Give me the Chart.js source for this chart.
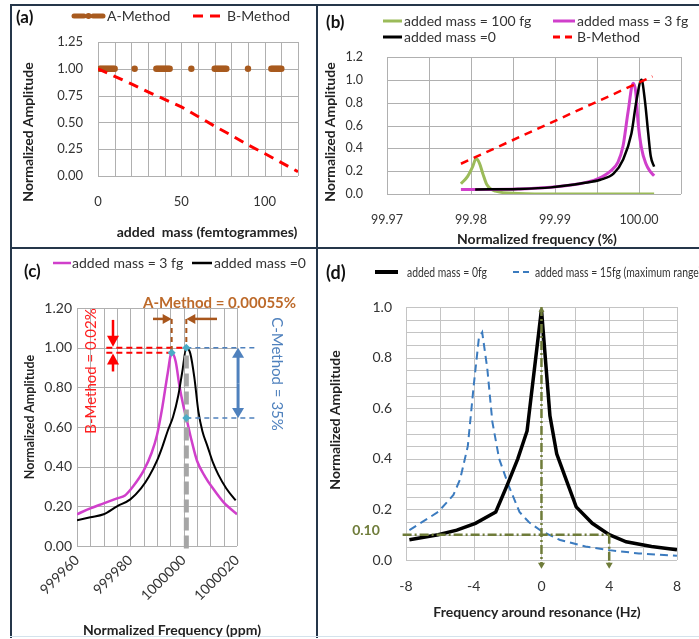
<!DOCTYPE html>
<html>
<head>
<meta charset="utf-8">
<script src="https://cdn.jsdelivr.net/npm/chart.js@4.4.0/dist/chart.umd.min.js"></script>
<style>
  body { margin: 0; background: #fff; }
  #fig { position: relative; width: 699px; height: 639px; overflow: hidden; background: #fff; font-family: Lato, "Open Sans", sans-serif; }
  canvas { position: absolute; }
  .t { position: absolute; white-space: nowrap; line-height: 1; color: #333; font-size: 14px; }
  .c { transform: translate(-50%, -50%); }
  .l { transform: translateY(-50%); }
  .ry { transform: translate(-50%, -50%) rotate(-90deg); }
  .rd { transform: translate(-50%, -50%) rotate(90deg); }
  .b { font-weight: bold; color: #222; }
  .lab { font-weight: bold; font-size: 17px; color: #111; }
  .bar { position: absolute; background: #25364a; }
  .nar { font-size: 13px; transform: translateY(-50%) scaleX(0.8); transform-origin: left center; }
</style>
</head>
<body>
<div id="fig">
  <canvas id="chartA" width="304" height="240" style="left:12px;top:6px"></canvas>
  <canvas id="chartB" width="380" height="241" style="left:319px;top:6px"></canvas>
  <canvas id="chartC" width="304" height="388" style="left:12px;top:249px"></canvas>
  <canvas id="chartD" width="380" height="388" style="left:319px;top:249px"></canvas>

  <div class="bar" style="left:10px;top:4px;width:689px;height:2px"></div>
  <div class="bar" style="left:10px;top:4px;width:2px;height:634px"></div>
  <div class="bar" style="left:316px;top:4px;width:2px;height:634px"></div>
  <div class="bar" style="left:10px;top:247px;width:689px;height:2px"></div>
  <div class="bar" style="left:10px;top:636px;width:689px;height:1px;background:#d4e3ec"></div>

  <svg width="699" height="639" style="position:absolute;left:0;top:0">
    <line x1="74" y1="16" x2="84" y2="16" stroke="#a85a1e" stroke-width="5" stroke-linecap="round"/>
    <circle cx="88.5" cy="16" r="3" fill="#a85a1e"/>
    <line x1="93" y1="16" x2="103" y2="16" stroke="#a85a1e" stroke-width="5" stroke-linecap="round"/>
    <line x1="193" y1="16" x2="223" y2="16" stroke="#ff0000" stroke-width="3" stroke-dasharray="10 7"/>

    <line x1="383" y1="21" x2="402" y2="21" stroke="#9bbb59" stroke-width="3"/>
    <line x1="553" y1="21" x2="575" y2="21" stroke="#d03fcb" stroke-width="3"/>
    <line x1="383" y1="37" x2="402" y2="37" stroke="#000" stroke-width="3"/>
    <line x1="553" y1="37" x2="575" y2="37" stroke="#ff0000" stroke-width="3" stroke-dasharray="7 5"/>

    <line x1="53" y1="263" x2="71" y2="263" stroke="#d03fcb" stroke-width="2.5"/>
    <line x1="192" y1="263" x2="212" y2="263" stroke="#000" stroke-width="2.5"/>

    <line x1="375" y1="272" x2="398" y2="272" stroke="#000" stroke-width="4"/>
    <line x1="513" y1="272" x2="531" y2="272" stroke="#3b7bbf" stroke-width="2" stroke-dasharray="6 4"/>
  </svg>

  <!-- panel (a) -->
  <div class="t lab l" style="left:16px;top:16px">(a)</div>
  <div class="t l" style="left:107px;top:16px">A-Method</div>
  <div class="t l" style="left:227px;top:16px">B-Method</div>
  <div class="t b ry" style="left:28px;top:132px">Normalized Amplitude</div>
  <div class="t b c" style="left:207px;top:232px">added&nbsp; mass (femtogrammes)</div>

  <!-- panel (b) -->
  <div class="t lab l" style="left:326px;top:21px">(b)</div>
  <div class="t l" style="left:404px;top:21px">added mass = 100 fg</div>
  <div class="t l" style="left:577px;top:21px">added mass = 3 fg</div>
  <div class="t l" style="left:404px;top:37px">added mass =0</div>
  <div class="t l" style="left:577px;top:37px">B-Method</div>
  <div class="t b ry" style="left:330px;top:132px">Normalized Amplitude</div>
  <div class="t b c" style="left:537px;top:239px">Normalized frequency (%)</div>

  <!-- panel (c) -->
  <div class="t lab l" style="left:24px;top:270px">(c)</div>
  <div class="t l" style="left:72px;top:263px">added mass = 3 fg</div>
  <div class="t l" style="left:214px;top:263px">added mass =0</div>
  <div class="t b l" style="left:143px;top:302px;font-size:15px;color:#bd6a2a">A-Method = 0.00055%</div>
  <div class="t ry" style="left:90px;top:371px;font-size:15px;color:#ff2020">B-Method = 0.02%</div>
  <div class="t rd" style="left:277px;top:374px;font-size:15px;color:#4f81bd">C-Method = 35%</div>
  <div class="t b ry" style="left:30px;top:417px;font-size:12.5px">Normalized Amplitude</div>
  <div class="t b c" style="left:172px;top:630px">Normalized Frequency (ppm)</div>

  <!-- panel (d) -->
  <div class="t lab l" style="left:326px;top:272px;font-size:18px">(d)</div>
  <div class="t nar" style="left:407px;top:272px">added mass = 0fg</div>
  <div class="t nar" style="left:535px;top:272px">added mass = 15fg (maximum range)</div>
  <div class="t b c" style="left:366px;top:530px;color:#6f7c3a">0.10</div>
  <div class="t b ry" style="left:335px;top:420px">Normalized Amplitude</div>
  <div class="t b c" style="left:537px;top:612px">Frequency around resonance (Hz)</div>
</div>

<script>
// (a) amplitude vs added mass
const aMethodMass = [1, 2, 3, 4, 5, 6, 7, 8, 9, 10, 22, 35, 36, 37, 38, 39, 40, 41, 42, 43, 56,
                     70, 71, 72, 73, 74, 75, 76, 77, 90, 104, 105, 106, 107, 108, 109, 110];
const aMethodAmp = [1, 1, 1, 1, 1, 1, 1, 1, 1, 1, 1, 1, 1, 1, 1, 1, 1, 1, 1, 1, 1,
                    1, 1, 1, 1, 1, 1, 1, 1, 1, 1, 1, 1, 1, 1, 1, 1];
const bMethodMass = [0, 10, 20, 30, 40, 50, 60, 70, 80, 90, 100, 110, 120];
const bMethodAmp = [1.0, 0.93, 0.86, 0.785, 0.715, 0.645, 0.555, 0.465, 0.38, 0.29, 0.21, 0.125, 0.04];

// (b) amplitude vs normalized frequency (%)
const bGreenFreq = [99.9788, 99.9796, 99.9802, 99.9806, 99.9810, 99.9814, 99.9819, 99.9829, 99.9856, 99.9900, 100.0018];
const bGreenAmp = [0.09, 0.155, 0.24, 0.31, 0.27, 0.18, 0.08, 0.025, 0.005, 0.0, 0.0];
const bMagFreq = [99.9788, 99.9805, 99.9856, 99.9895, 99.9927, 99.9950, 99.9966, 99.9975, 99.9981, 99.9987,
                  99.9993, 99.9996, 99.9999, 100.0003, 100.0008, 100.0013, 100.0018];
const bMagAmp = [0.04, 0.04, 0.044, 0.06, 0.087, 0.13, 0.20, 0.28, 0.42, 0.72, 0.97, 0.90, 0.62, 0.40, 0.27, 0.20, 0.16];
const bBlkFreq = [99.9805, 99.9856, 99.9895, 99.9934, 99.9954, 99.9970, 99.9981, 99.9991, 99.9997,
                  100.0003, 100.0007, 100.0011, 100.0014, 100.0018];
const bBlkAmp = [0.04, 0.044, 0.058, 0.096, 0.125, 0.18, 0.30, 0.53, 0.82, 1.0, 0.82, 0.53, 0.33, 0.24];
const bRedFreq = [99.9788, 100.0016];
const bRedAmp = [0.265, 1.03];

// (c) amplitude vs normalized frequency (ppm)
const cMagFreq = [999960, 999965, 999970, 999975, 999978, 999981, 999985, 999988, 999990, 999992, 999994,
                  999995.5, 999997, 999998.5, 1000000, 1000001, 1000003, 1000005, 1000008, 1000011, 1000015, 1000020];
const cMagAmp = [0.16, 0.19, 0.215, 0.24, 0.255, 0.30, 0.38, 0.47, 0.56, 0.70, 0.87,
                 0.975, 0.93, 0.80, 0.70, 0.645, 0.53, 0.43, 0.35, 0.29, 0.22, 0.16];
const cBlkFreq = [999960, 999965, 999970, 999975, 999980, 999984, 999987, 999990, 999992, 999994, 999996,
                  999998, 999999.5, 1000001, 1000002.5, 1000004, 1000005.5, 1000007, 1000009, 1000011, 1000013, 1000016, 1000019.5];
const cBlkAmp = [0.13, 0.145, 0.16, 0.20, 0.235, 0.29, 0.35, 0.43, 0.50, 0.58, 0.65,
                 0.76, 0.88, 1.0, 0.97, 0.85, 0.68, 0.58, 0.50, 0.42, 0.36, 0.29, 0.23];

// (d) amplitude vs frequency around resonance (Hz)
const dBlkHz = [-7.8, -6.1, -5.0, -3.9, -2.7, -2.0, -1.4, -0.85, 0, 0.5, 0.9, 1.5, 2.05, 3.0, 4.0, 5.0, 6.5, 8.0];
const dBlkAmp = [0.08, 0.10, 0.118, 0.145, 0.19, 0.30, 0.40, 0.51, 0.99, 0.57, 0.42, 0.31, 0.21, 0.145, 0.10, 0.072, 0.053, 0.04];
const dBlueHz = [-7.8, -6.1, -5.2, -4.8, -4.35, -4.0, -3.7, -3.5, -3.2, -2.9, -2.5, -1.95, -1.3, -0.75, 0, 1.1, 2.6, 4, 5.75, 8];
const dBlueAmp = [0.118, 0.19, 0.257, 0.32, 0.45, 0.69, 0.875, 0.90, 0.757, 0.546, 0.40, 0.296, 0.19, 0.15,
                  0.114, 0.079, 0.053, 0.039, 0.026, 0.017];

const GRID = '#b0b0b0';
const TICK = '#333';
const BROWN = '#a8561c';

function pts(xs, ys) {
  return xs.map((x, i) => ({ x: x, y: ys[i] }));
}

// plot-area grid drawn from each scale's own ticks
const gridLines = {
  id: 'gridLines',
  beforeDatasetsDraw(chart, args, opts) {
    const { ctx, chartArea: a } = chart;
    ctx.save();
    ctx.strokeStyle = opts.color || GRID;
    ctx.lineWidth = 1;
    ctx.beginPath();
    chart.scales.x.ticks.forEach(t => {
      const px = Math.round(chart.scales.x.getPixelForValue(t.value)) + 0.5;
      ctx.moveTo(px, a.top);
      ctx.lineTo(px, a.bottom);
    });
    chart.scales.y.ticks.forEach(t => {
      const py = Math.round(chart.scales.y.getPixelForValue(t.value)) + 0.5;
      ctx.moveTo(a.left, py);
      ctx.lineTo(a.right, py);
    });
    ctx.stroke();
    ctx.restore();
  }
};

function baseOptions(o) {
  return {
    responsive: false,
    animation: false,
    layout: { padding: { left: 0, top: o.top, right: o.right, bottom: 0 } },
    plugins: { legend: { display: false }, tooltip: { enabled: false }, gridLines: { color: o.grid } },
    elements: { point: { radius: 0 } },
    scales: {
      x: {
        type: 'linear', min: o.xmin, max: o.xmax,
        afterFit: s => { s.height = o.xh; },
        grid: { display: false, drawTicks: false },
        border: { display: false },
        ticks: {
          stepSize: o.xstep, autoSkip: false, padding: o.xpad,
          minRotation: o.rot || 0, maxRotation: o.rot || 0,
          color: TICK, font: { family: 'Lato', size: o.fs }, callback: o.xfmt
        }
      },
      y: {
        type: 'linear', min: o.ymin, max: o.ymax,
        afterFit: s => { s.width = o.yw; },
        grid: { display: false, drawTicks: false },
        border: { display: false },
        ticks: {
          stepSize: o.ystep, autoSkip: false, padding: o.ypad,
          color: TICK, font: { family: 'Lato', size: o.fs }, callback: o.yfmt
        }
      }
    }
  };
}

function seg(ctx, x1, y1, x2, y2, color, w, dash) {
  ctx.save();
  ctx.strokeStyle = color;
  ctx.lineWidth = w;
  ctx.setLineDash(dash || []);
  ctx.beginPath();
  ctx.moveTo(x1, y1);
  ctx.lineTo(x2, y2);
  ctx.stroke();
  ctx.restore();
}

function arrow(ctx, x1, y1, x2, y2, color, w, len, half) {
  const a = Math.atan2(y2 - y1, x2 - x1);
  seg(ctx, x1, y1, x2 - Math.cos(a) * len * 0.8, y2 - Math.sin(a) * len * 0.8, color, w);
  ctx.save();
  ctx.translate(x2, y2);
  ctx.rotate(a);
  ctx.fillStyle = color;
  ctx.beginPath();
  ctx.moveTo(0, 0);
  ctx.lineTo(-len, -half);
  ctx.lineTo(-len, half);
  ctx.closePath();
  ctx.fill();
  ctx.restore();
}

function diamond(ctx, x, y, r, color) {
  ctx.save();
  ctx.fillStyle = color;
  ctx.beginPath();
  ctx.moveTo(x, y - r);
  ctx.lineTo(x + r, y);
  ctx.lineTo(x, y + r);
  ctx.lineTo(x - r, y);
  ctx.closePath();
  ctx.fill();
  ctx.restore();
}

// (a)
new Chart(document.getElementById('chartA'), {
  type: 'scatter',
  data: {
    datasets: [
      { label: 'B-Method', data: pts(bMethodMass, bMethodAmp), showLine: true, borderColor: '#ff0000',
        borderWidth: 3, borderDash: [10, 7], pointRadius: 0, order: 0 },
      { label: 'A-Method', data: pts(aMethodMass, aMethodAmp), showLine: false, pointRadius: 3.2,
        pointBackgroundColor: '#a85a1e', pointBorderWidth: 0, order: 1 }
    ]
  },
  options: baseOptions({
    top: 36, right: 16, xh: 70, yw: 86, xpad: 18, ypad: 15, fs: 13,
    xmin: 0, xmax: 120, xstep: 10, ymin: 0, ymax: 1.25, ystep: 0.25,
    xfmt: v => (Math.round(v) % 50 === 0 ? String(Math.round(v)) : ''),
    yfmt: v => v.toFixed(2)
  }),
  plugins: [gridLines]
});

// (b)
new Chart(document.getElementById('chartB'), {
  type: 'scatter',
  data: {
    datasets: [
      { label: 'B-Method', data: pts(bRedFreq, bRedAmp), showLine: true, borderColor: '#ff0000',
        borderWidth: 2.5, borderDash: [8, 6], order: 0 },
      { label: 'added mass =0', data: pts(bBlkFreq, bBlkAmp), showLine: true, borderColor: '#000',
        borderWidth: 2.5, cubicInterpolationMode: 'monotone', order: 1 },
      { label: 'added mass = 3 fg', data: pts(bMagFreq, bMagAmp), showLine: true, borderColor: '#d03fcb',
        borderWidth: 3, cubicInterpolationMode: 'monotone', order: 2 },
      { label: 'added mass = 100 fg', data: pts(bGreenFreq, bGreenAmp), showLine: true, borderColor: '#9bbb59',
        borderWidth: 3, cubicInterpolationMode: 'monotone', order: 3 }
    ]
  },
  options: baseOptions({
    top: 51, right: 13, xh: 53, yw: 68, xpad: 18, ypad: 24, fs: 12.5,
    xmin: 99.97, xmax: 100.005, xstep: 0.005, ymin: 0, ymax: 1.2, ystep: 0.2,
    xfmt: v => {
      const r = Math.round(v * 100);
      return Math.abs(v * 100 - r) < 1e-4 ? (r / 100).toFixed(2) : '';
    },
    yfmt: v => v.toFixed(1)
  }),
  plugins: [gridLines]
});

// (c)
const peakM = [999995.5, 0.975];
const peakB = [1000001, 1.0];
const cDrop = [1000001, 0.645];
const cAnnot = {
  id: 'cAnnot',
  afterDraw(chart) {
    const { ctx } = chart;
    const X = v => chart.scales.x.getPixelForValue(v);
    const Y = v => chart.scales.y.getPixelForValue(v);
    // dashed guide through the unloaded peak
    seg(ctx, X(peakB[0]), Y(0.96), X(peakB[0]), Y(-0.02), '#a6a6a6', 5, [13, 5]);
    // B-Method (amplitude change)
    seg(ctx, X(999971), Y(peakB[1]), X(peakB[0]), Y(peakB[1]), '#ff0000', 2, [6, 4]);
    seg(ctx, X(999971), Y(peakM[1]), X(peakM[0]), Y(peakM[1]), '#ff0000', 2, [6, 4]);
    arrow(ctx, X(999973.5), Y(1.14), X(999973.5), Y(1.004), '#ff0000', 2.5, 11, 6);
    arrow(ctx, X(999973.5), Y(0.88), X(999973.5), Y(0.971), '#ff0000', 2.5, 11, 6);
    // A-Method (frequency shift)
    seg(ctx, X(peakM[0]), Y(1.145), X(peakM[0]), Y(peakM[1]), BROWN, 2, [5, 4]);
    seg(ctx, X(peakB[0]), Y(1.145), X(peakB[0]), Y(peakB[1]), BROWN, 2, [5, 4]);
    arrow(ctx, X(999988.5), Y(1.145), X(peakM[0]), Y(1.145), BROWN, 2.5, 9, 5);
    arrow(ctx, X(1000012.5), Y(1.145), X(peakB[0]), Y(1.145), BROWN, 2.5, 9, 5);
    // C-Method (amplitude at fixed frequency)
    seg(ctx, X(peakB[0]), Y(peakB[1]), X(1000026.7), Y(peakB[1]), '#4f81bd', 1.5, [5, 4]);
    seg(ctx, X(cDrop[0]), Y(cDrop[1]), X(1000026.7), Y(cDrop[1]), '#4f81bd', 1.5, [5, 4]);
    arrow(ctx, X(1000020.4), Y(0.82), X(1000020.4), Y(peakB[1]), '#4f81bd', 3, 10, 6);
    arrow(ctx, X(1000020.4), Y(0.82), X(1000020.4), Y(cDrop[1]), '#4f81bd', 3, 10, 6);
    [peakM, peakB, cDrop].forEach(p => diamond(ctx, X(p[0]), Y(p[1]), 4, '#4bacc6'));
  }
};
new Chart(document.getElementById('chartC'), {
  type: 'scatter',
  data: {
    datasets: [
      { label: 'added mass =0', data: pts(cBlkFreq, cBlkAmp), showLine: true, borderColor: '#000',
        borderWidth: 2, cubicInterpolationMode: 'monotone', order: 0 },
      { label: 'added mass = 3 fg', data: pts(cMagFreq, cMagAmp), showLine: true, borderColor: '#d03fcb',
        borderWidth: 2.5, cubicInterpolationMode: 'monotone', order: 1 }
    ]
  },
  options: baseOptions({
    top: 59, right: 79, xh: 91, yw: 65, xpad: 6, ypad: 5, fs: 14, rot: 45,
    xmin: 999960, xmax: 1000020, xstep: 5, ymin: 0, ymax: 1.2, ystep: 0.2,
    xfmt: v => (Math.round(v) % 20 === 0 ? String(Math.round(v)) : ''),
    yfmt: v => v.toFixed(2)
  }),
  plugins: [gridLines, cAnnot]
});

// (d)
const OLIVE = '#6f7c3a';
const dAnnot = {
  id: 'dAnnot',
  afterDraw(chart) {
    const { ctx } = chart;
    const X = v => chart.scales.x.getPixelForValue(v);
    const Y = v => chart.scales.y.getPixelForValue(v);
    const dd = [9, 3, 2, 3];
    seg(ctx, X(-8.2), Y(0.1), X(4), Y(0.1), OLIVE, 2.5, dd);
    seg(ctx, X(0), Y(1.0), X(0), Y(-0.015), OLIVE, 2.5, dd);
    seg(ctx, X(4), Y(0.1), X(4), Y(-0.015), OLIVE, 2.5, dd);
    arrow(ctx, X(0), Y(-0.01), X(0), Y(-0.035), OLIVE, 2, 6, 3.5);
    arrow(ctx, X(4), Y(-0.01), X(4), Y(-0.035), OLIVE, 2, 6, 3.5);
    arrow(ctx, X(0), Y(0.98), X(0), Y(1.0), OLIVE, 2, 5, 3);
  }
};
new Chart(document.getElementById('chartD'), {
  type: 'scatter',
  data: {
    datasets: [
      { label: 'added mass = 0fg', data: pts(dBlkHz, dBlkAmp), showLine: true, borderColor: '#000',
        borderWidth: 3.5, order: 0 },
      { label: 'added mass = 15fg (maximum range)', data: pts(dBlueHz, dBlueAmp), showLine: true,
        borderColor: '#3b7bbf', borderWidth: 2, borderDash: [8, 5], order: 1 }
    ]
  },
  options: baseOptions({
    top: 58, right: 6, xh: 77, yw: 87, xpad: 18, ypad: 14, fs: 14, grid: '#c4c4c4',
    xmin: -8, xmax: 8, xstep: 2, ymin: 0, ymax: 1.0, ystep: 0.05,
    xfmt: v => (Math.round(v) % 4 === 0 ? String(Math.round(v)) : ''),
    yfmt: v => (Math.abs(v / 0.2 - Math.round(v / 0.2)) < 1e-6 ? v.toFixed(1) : '')
  }),
  plugins: [gridLines, dAnnot]
});
</script>
</body>
</html>
